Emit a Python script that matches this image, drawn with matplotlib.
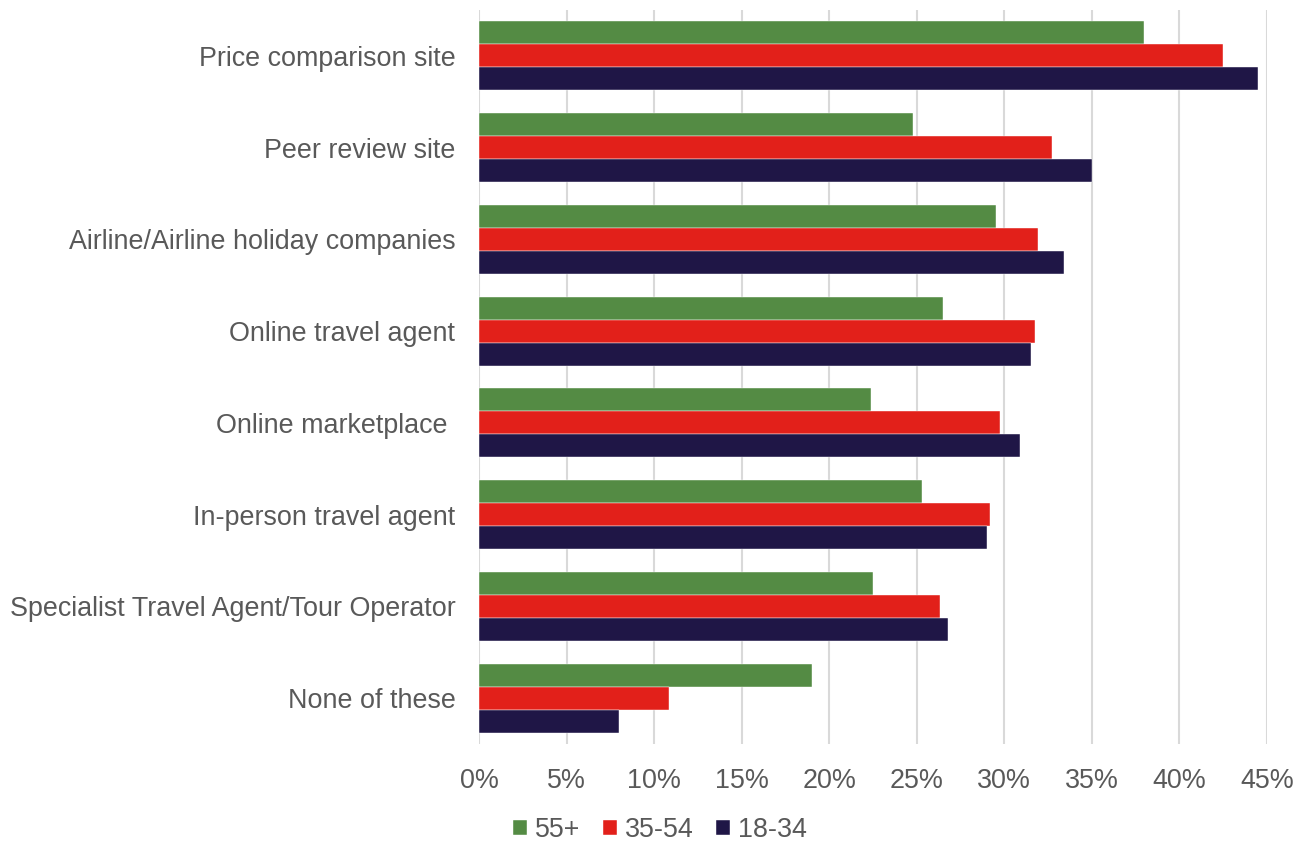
import matplotlib
matplotlib.use("Agg")
import matplotlib.pyplot as plt
import numpy as np
from matplotlib.ticker import FuncFormatter, MultipleLocator

plt.rcParams['font.family'] = ['Liberation Sans', 'DejaVu Sans']

categories = ["Price comparison site", "Peer review site", "Airline/Airline holiday companies",
              "Online travel agent", "Online marketplace ", "In-person travel agent",
              "Specialist Travel Agent/Tour Operator", "None of these"]
series_names = ["55+", "35-54", "18-34"]
v55 = [38.0, 24.8, 29.5, 26.5, 22.4, 25.3, 22.5, 19.0]
v35 = [42.5, 32.7, 31.9, 31.75, 29.75, 29.2, 26.3, 10.85]
v18 = [44.5, 35.0, 33.4, 31.5, 30.9, 29.0, 26.8, 8.0]
colors = ["#548B44", "#E2201A", "#1F1646"]

fig = plt.figure(figsize=(12.96, 8.42), dpi=100)
ax = fig.add_axes([479/1296, 1-744/842, (1267-479)/1296, (744-10)/842])

n = len(categories)
y = np.arange(n)
h = 0.25
for i, (vals, c, name) in enumerate(zip([v55, v35, v18], colors, series_names)):
    ax.barh(y + (i - 1) * h, vals, height=h, color=c, label=name,
            edgecolor='white', linewidth=0.3)

ax.set_ylim(n - 0.5, -0.5)
ax.set_xlim(0, 45)
ax.xaxis.set_major_locator(MultipleLocator(5))
ax.xaxis.set_major_formatter(FuncFormatter(lambda v, p: f"{int(round(v))}%"))
ax.set_yticks(y)
ax.set_yticklabels(categories)
ax.tick_params(axis='both', length=0, labelsize=19.4, labelcolor='#595959')
ax.tick_params(axis='x', pad=17)
ax.tick_params(axis='y', pad=17)
ax.grid(axis='x', color='#D9D9D9', linewidth=1.5)
ax.set_axisbelow(True)
for s in ax.spines.values():
    s.set_visible(False)

leg = fig.legend(loc='center', bbox_to_anchor=(660/1296, 1-830/842), ncol=3,
                 frameon=False, fontsize=19.4, handlelength=0.52, handleheight=0.52,
                 handletextpad=0.28, columnspacing=0.85, labelcolor='#595959')

fig.savefig("out.png", dpi=100)
